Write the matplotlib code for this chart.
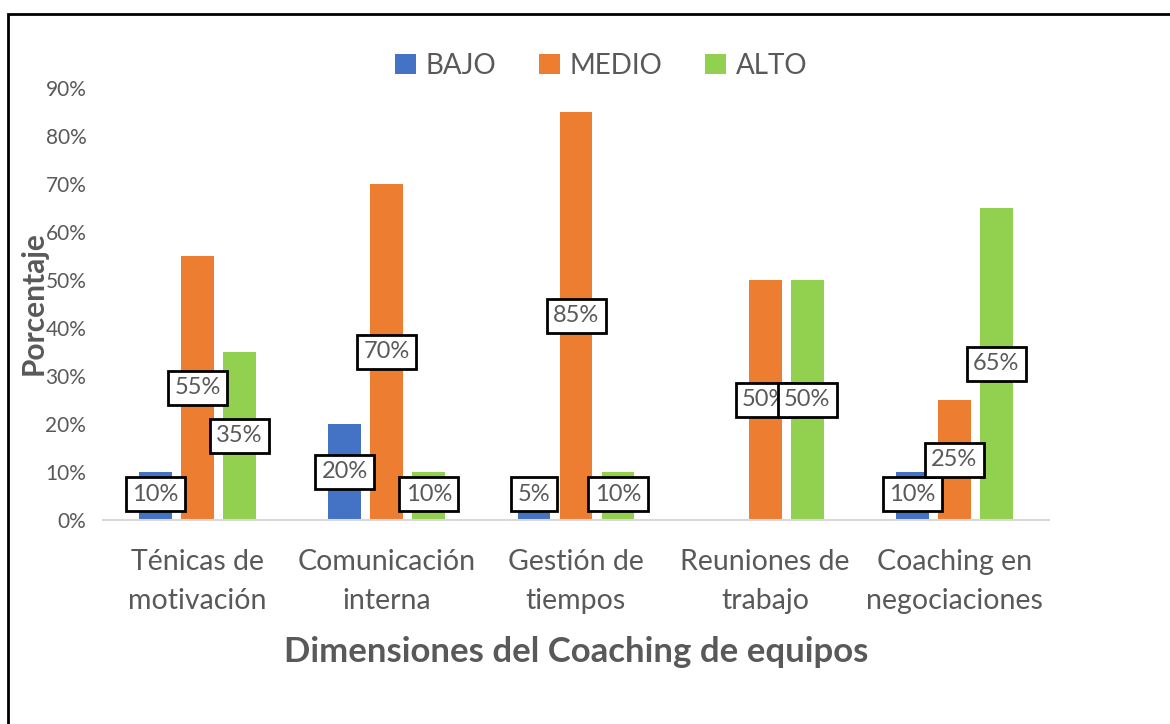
import matplotlib
matplotlib.use("Agg")
import matplotlib.pyplot as plt
import numpy as np
from matplotlib.patches import Rectangle

categories = ["Ténicas de\nmotivación", "Comunicación\ninterna", "Gestión de\ntiempos",
              "Reuniones de\ntrabajo", "Coaching en\nnegociaciones"]
series_names = ["BAJO", "MEDIO", "ALTO"]
bajo = [0.10, 0.20, 0.05, 0.0, 0.10]
medio = [0.55, 0.70, 0.85, 0.50, 0.25]
alto = [0.35, 0.10, 0.10, 0.50, 0.65]
y_ticks = [0.0, 0.1, 0.2, 0.3, 0.4, 0.5, 0.6, 0.7, 0.8, 0.9]

colors = ["#4472C4", "#ED7D31", "#92D050"]
grey = "#595959"
font = "Lato"
plt.rcParams["font.family"] = [font, "DejaVu Sans"]

fig = plt.figure(figsize=(11.7, 7.24), dpi=100)
ax = fig.add_axes([103/1170, 1-520/724, (1049-103)/1170, (520-88)/724])

x = np.arange(len(categories))
width = 0.174
step = 0.222
data = [bajo, medio, alto]
bars_all = []
for i, (name, vals, c) in enumerate(zip(series_names, data, colors)):
    bars = ax.bar(x + (i-1)*step, vals, width, color=c, label=name, zorder=2)
    bars_all.append((bars, vals))

for bars, vals in bars_all:
    for b, v in zip(bars, vals):
        if v <= 0:
            continue
        cy = max(v/2, 0.054)
        ax.text(b.get_x()+b.get_width()/2, cy, f"{int(round(v*100))}%",
                ha="center", va="center", fontsize=17, color=grey, zorder=5,
                bbox=dict(boxstyle="square,pad=0.27", fc="white", ec="black", lw=2))

ax.set_xlim(-0.5, len(categories)-0.5)
ax.set_ylim(0, 0.9)
ax.set_yticks(y_ticks)
ax.set_yticklabels([f"{int(round(t*100))}%" for t in y_ticks])
ax.set_xticks(x)
ax.set_xticklabels(categories, fontsize=20.5, color=grey, linespacing=1.62)
ax.tick_params(axis="y", length=0, labelsize=15, labelcolor=grey, pad=12)
ax.tick_params(axis="x", length=0, pad=21)
for s in ["top", "right", "left"]:
    ax.spines[s].set_visible(False)
ax.spines["bottom"].set_color("#D9D9D9")
ax.spines["bottom"].set_linewidth(1.5)

ax.set_xlabel("Dimensiones del Coaching de equipos", fontsize=25, fontweight="bold",
              color=grey, labelpad=16)
fig.text(34/1170, 1-303/724, "Porcentaje", rotation=90, ha="center", va="center",
         fontsize=21.5, fontweight="bold", color=grey)

leg = ax.legend(loc="center", bbox_to_anchor=(601/1170, 1-66/724), bbox_transform=fig.transFigure,
                ncol=3, frameon=False, fontsize=20, handlelength=0.75, handleheight=0.75,
                handletextpad=0.35, columnspacing=1.55)
for t in leg.get_texts():
    t.set_color(grey)

# outer frame (top and left visible)
fig.patches.append(Rectangle((8/1170, -0.05), 1.2, 1-14/724+0.05, transform=fig.transFigure,
                             fill=False, ec="black", lw=2))

fig.savefig("out.png", dpi=100)
